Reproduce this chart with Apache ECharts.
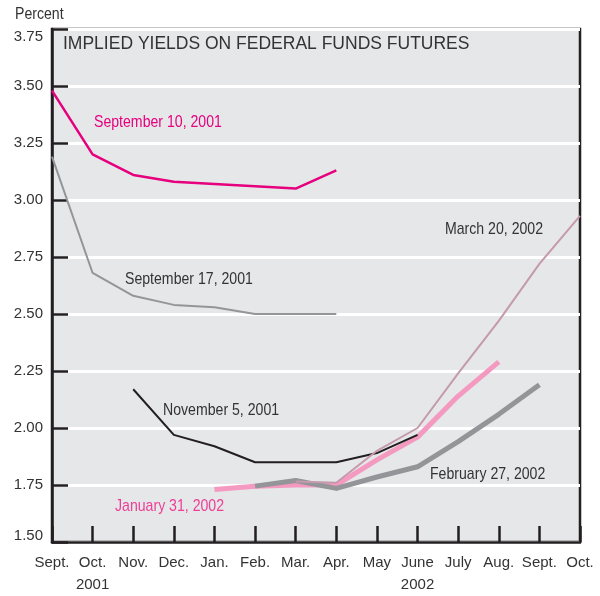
<!DOCTYPE html>
<html lang="en">
<head>
    <meta charset="UTF-8">
    <title>Implied yields on federal funds futures</title>
    <script src="https://cdn.jsdelivr.net/npm/echarts@6/dist/echarts.min.js"></script>
    <style>
        html, body { margin: 0; padding: 0; background: #fff; }
        #chart { width: 600px; height: 596px; }
    </style>
</head>
<body>
<div id="chart"></div>
<script>
    // Months on the x axis (Sept. 2001 .. Oct. 2002)
    var months = ['Sept.', 'Oct.\n2001', 'Nov.', 'Dec.', 'Jan.', 'Feb.', 'Mar.', 'Apr.',
        'May', 'June\n2002', 'July', 'Aug.', 'Sept.', 'Oct.'];

    // Implied yields, percent (null = no contract quoted)
    var sep10_2001 = [3.48, 3.20, 3.11, 3.08, 3.07, 3.06, 3.05, 3.13, null, null, null, null, null, null];
    var sep17_2001 = [3.19, 2.68, 2.58, 2.54, 2.53, 2.50, 2.50, 2.50, null, null, null, null, null, null];
    var nov5_2001 = [null, null, 2.17, 1.97, 1.92, 1.85, 1.85, 1.85, 1.89, 1.97, null, null, null, null];
    var jan31_2002 = [null, null, null, null, 1.73, 1.745, 1.75, 1.75, 1.86, 1.96, 2.14, 2.29, null, null];
    var feb27_2002 = [null, null, null, null, null, 1.745, 1.77, 1.735, 1.785, 1.83, 1.94, 2.06, 2.19, null];
    var mar20_2002 = [null, null, null, null, null, null, 1.765, 1.76, 1.90, 2.00, 2.24, 2.47, 2.72, 2.93];

    var seriesNames = ['September 10, 2001', 'September 17, 2001', 'November 5, 2001',
        'January 31, 2002', 'February 27, 2002', 'March 20, 2002'];

    var ink = '#231f20';
    var textGray = '#333333';
    var sans = '"Liberation Sans", Arial, sans-serif';

    var chart = echarts.init(document.getElementById('chart'));

    function line(name, data, color, width, z) {
        return {
            name: name,
            type: 'line',
            data: data,
            symbol: 'none',
            connectNulls: false,
            z: z,
            lineStyle: { color: color, width: width, cap: 'butt', join: 'round' }
        };
    }

    // condensed-looking annotation: normal font squeezed horizontally
    function note(text, x, y, color) {
        return {
            type: 'text', x: x, y: y, z: 100, scaleX: 0.83, scaleY: 1,
            style: { text: text, fill: color, font: '17px ' + sans, textAlign: 'left', textVerticalAlign: 'middle' }
        };
    }

    var options = {
        animation: false,
        grid: {
            left: 52, right: 20, top: 29, bottom: 54,
            show: true,
            backgroundColor: '#e6e7e8',
            borderColor: ink,
            borderWidth: 2.5
        },
        xAxis: {
            type: 'category',
            data: months,
            boundaryGap: false,
            axisLine: { lineStyle: { color: ink, width: 2.5 } },
            axisTick: { inside: true, length: 16, lineStyle: { color: ink, width: 2.5 } },
            axisLabel: {
                margin: 10, color: textGray, fontFamily: sans, fontSize: 15, lineHeight: 22,
                interval: 0
            },
            splitLine: { show: false }
        },
        yAxis: {
            type: 'value',
            min: 1.5, max: 3.75, interval: 0.25,
            axisLine: { show: true, lineStyle: { color: ink, width: 2.5 } },
            axisTick: { show: true, inside: true, length: 16, lineStyle: { color: ink, width: 2.5 } },
            axisLabel: {
                margin: 9, color: textGray, fontFamily: sans, fontSize: 15,
                formatter: function (v) {
                    if (v >= 3.75) return '{top|' + v.toFixed(2) + '}';
                    if (v <= 1.5) return '{bot|' + v.toFixed(2) + '}';
                    return v.toFixed(2);
                },
                rich: {
                    top: { fontFamily: sans, fontSize: 15, color: textGray, padding: [16, 0, 0, 0] },
                    bot: { fontFamily: sans, fontSize: 15, color: textGray, padding: [0, 0, 12, 0] }
                }
            },
            splitLine: { show: true, lineStyle: { color: '#ffffff', width: 3 } }
        },
        series: [
            line(seriesNames[0], sep10_2001, '#e6007e', 2.5, 5),
            line(seriesNames[1], sep17_2001, '#939598', 2, 4),
            line(seriesNames[3], jan31_2002, '#f49ac1', 5, 2),
            line(seriesNames[4], feb27_2002, '#939598', 5, 3),
            line(seriesNames[2], nov5_2001, ink, 2, 4),
            line(seriesNames[5], mar20_2002, '#c49aac', 2, 5)
        ],
        graphic: [
            note('Percent', 15, 14, textGray),
            {
                type: 'text', x: 63, y: 44, z: 100,
                style: {
                    text: 'IMPLIED YIELDS ON FEDERAL FUNDS FUTURES', fill: textGray,
                    font: '17.5px ' + sans, textAlign: 'left', textVerticalAlign: 'middle'
                }
            },
            note(seriesNames[0], 94, 122, '#e6007e'),
            note(seriesNames[1], 125, 279, textGray),
            note(seriesNames[2], 163, 410, textGray),
            note(seriesNames[3], 115, 506, '#ee3e96'),
            note(seriesNames[4], 430, 474, textGray),
            note(seriesNames[5], 445, 229, textGray)
        ]
    };

    chart.setOption(options);
</script>
</body>
</html>
